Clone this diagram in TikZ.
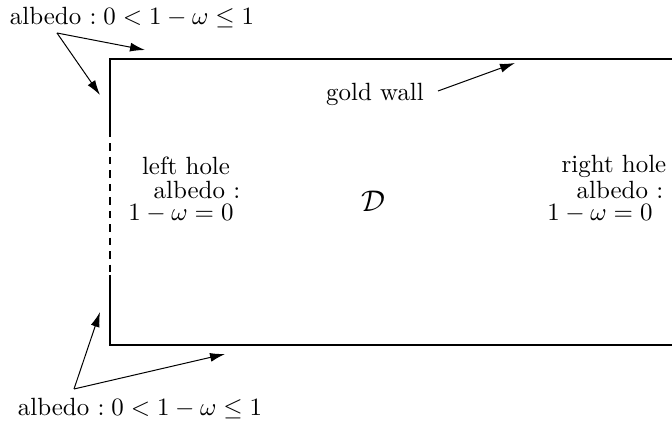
\documentclass[tikz,border=0pt]{standalone}
\usetikzlibrary{arrows.meta}
\tikzset{
  wall/.style={line width=0.8pt},
  hole/.style={line width=0.5pt, dash pattern=on 3pt off 2.4pt},
  pointer/.style={-{Latex[length=6pt,width=3.6pt]}, line width=0.4pt},
  txt/.style={inner sep=0pt},
}
\begin{document}
\begin{tikzpicture}[x=0.0141cm, y=-0.0141cm]
  \useasboundingbox (0,0) rectangle (672,427);
  % the domain
  \coordinate (tl) at (110,59);
  \coordinate (tr) at (672,59);
  \coordinate (bl) at (110,345);
  \coordinate (br) at (672,345);
  \coordinate (holeTop) at (110,130);
  \coordinate (holeBot) at (110,275);
  \draw[wall] (holeTop) -- (tl) -- (tr);
  \draw[wall] (holeBot) -- (bl) -- (br);
  \draw[hole] (holeTop) -- (holeBot);
  \node[txt] (dom) at (373,201) {\large $\mathcal{D}$};
  % labels
  \node[txt] (topLbl) at (132,18) {albedo $: 0 < 1-\omega \leq 1$};
  \node[txt] (botLbl) at (140,409) {albedo $: 0 < 1-\omega \leq 1$};
  \node[txt] (gold) at (375,94) {gold wall};
  \node[txt] (lh1) at (186,166) {left hole};
  \node[txt] (lh2) at (197,190) {albedo :};
  \node[txt] (lh3) at (181,214) {$1-\omega=0$};
  \node[txt] (rh1) at (614,166) {right hole};
  \node[txt] (rh2) at (620,190) {albedo :};
  \node[txt] (rh3) at (600,214) {$1-\omega=0$};
  % arrows
  \coordinate (tsrc) at (57,33);
  \coordinate (bsrc) at (74,389);
  \coordinate (gsrc) at (438,91);
  \draw[pointer] (tsrc) -- (145,50);
  \draw[pointer] (tsrc) -- (100,95);
  \draw[pointer] (bsrc) -- (100,312);
  \draw[pointer] (bsrc) -- (225,354);
  \draw[pointer] (gsrc) -- (515,63);
\end{tikzpicture}
\end{document}
